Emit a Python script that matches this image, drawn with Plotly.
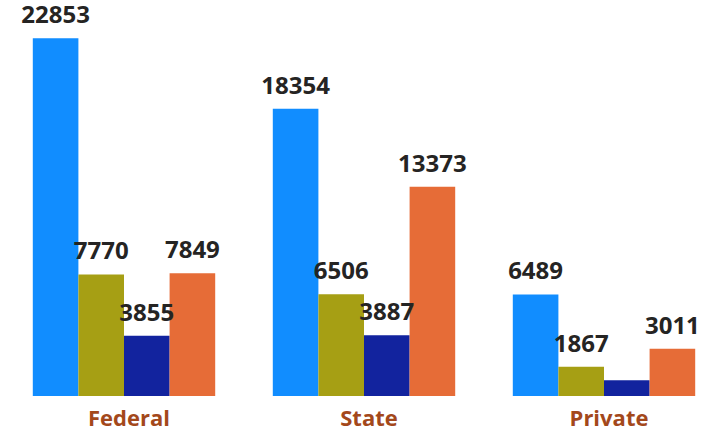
import plotly.graph_objects as go

categories = ["Federal", "State", "Private"]
series_names = ["Series 1", "Series 2", "Series 3", "Series 4"]
series_values = [
    [22853, 18354, 6489],
    [7770, 6506, 1867],
    [3855, 3887, 1000],
    [7849, 13373, 3011],
]
series_labels = [
    ["22853", "18354", "6489"],
    ["7770", "6506", "1867"],
    ["3855", "3887", ""],
    ["7849", "13373", "3011"],
]
colors = ["#118DFF", "#A69F14", "#12239E", "#E66C37"]

fig = go.Figure()
for name, vals, col in zip(series_names, series_values, colors):
    fig.add_trace(go.Bar(
        x=categories, y=vals, name=name,
        marker=dict(color=col, line=dict(width=0)),
        hoverinfo="x+y",
    ))

# value labels, grouped the same way as the bars
for name, vals, labs in zip(series_names, series_values, series_labels):
    fig.add_trace(go.Scatter(
        x=categories, y=vals, name=name + " label", text=labs,
        mode="markers+text", textposition="top center", cliponaxis=False,
        marker=dict(size=13, color="rgba(0,0,0,0)"),
        textfont=dict(family="Open Sans", size=24, color="#252423", weight="bold"),
        hoverinfo="skip", showlegend=False,
    ))

fig.update_layout(
    barmode="group", bargap=0.24, bargroupgap=0,
    scattermode="group", scattergap=0.24,
    width=727, height=434,
    margin=dict(l=4, r=3, t=0, b=38),
    paper_bgcolor="white", plot_bgcolor="white",
    showlegend=False,
    xaxis=dict(showgrid=False, showline=False, ticks="", ticklabelshift=5,
               ticklabelstandoff=7,
               tickfont=dict(family="Open Sans", size=22, color="#A3481B", weight="bold")),
    yaxis=dict(visible=False, range=[0, 25300]),
)
fig.write_html("out.html", config={"displayModeBar": False},
               post_script="document.body.style.margin='0';document.body.style.overflow='hidden';")
